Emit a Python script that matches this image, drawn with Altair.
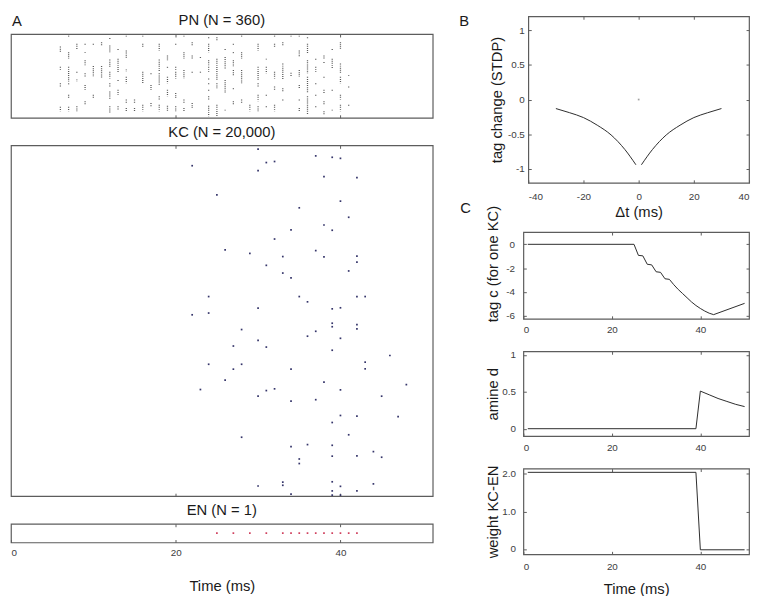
import altair as alt
import pandas as pd

FONT = "Liberation Sans"
BOX = "#5c5c5c"
TXT = "#1a1a1a"
LBL = "#404040"
LINE = "#2b2b2b"
PN_COL = "#5a5a5a"
KC_COL = "#35356a"
EN_COL = "#d0405e"

# ---------------- Panel A: PN raster (bursts of dots: time, first PN, last PN) ----------------
pn_time = [6,6,6,6, 7,7,7,7,7,7, 8,8,8,8, 9,9,9,9,9,9, 10,10,10, 11,11,
           12,12,12,12,12,12,12, 13,13,13,13,13, 14,14,14,14,14,14, 15,15,
           16,16,16,16, 17,17,17, 18,18,18,18,18, 19,19,19,19,19, 20,20,20,20,20,
           21,21,21,21,21, 22,22,22,22, 23,23, 24,24,24,24,24,24,24,24,24,
           25,25,25,25, 26,26,26,26, 27,27,27,27,27,27, 28,28,28,28, 29,
           30,30,30,30,30, 31,31,31,31, 32,32,32,32,32, 33,33,33,33, 34,34,
           35,35,35,35,35,35, 36,36,36,36,36, 37,37,37,37,37, 38,38,38,38,38,38,
           39,39,39,39, 40,40,40,40,40, 41,41,41]
pn_first = [54,141,212,313, 7,78,141,212,261,313, 42,162,195,311, 42,78,113,169,219,289,
            42,138,261, 35,138, 17,49,110,162,212,247,311, 64,106,198,240,311,
            7,71,152,184,282,318, 282,318, 7,42,162,304, 169,219,297, 42,110,169,268,304,
            92,141,184,240,308, 42,141,162,254,311, 7,78,155,282,318, 35,92,162,297, 99,162,
            14,42,113,141,191,212,240,268,308, 14,106,212,304, 64,99,198,325,
            42,78,113,155,233,289, 7,78,155,282, 304, 42,141,212,261,311, 106,141,261,311,
            7,42,162,226,304, 35,127,233,282, 7,167, 7,71,155,219,282,318,
            14,42,113,184,268, 106,141,212,261,311, 92,120,184,240,289,332,
            64,106,240,325, 35,127,184,261,304, 177,226,304]
pn_last = [78,158,226,332, 11,106,205,219,275,332, 64,169,205,332, 49,82,134,184,240,304,
           49,184,275, 49,191, 21,78,141,191,226,282,339, 71,169,205,261,325,
           11,106,162,212,297,332, 297,332, 11,56,212,332, 177,240,311, 71,162,219,282,332,
           113,148,212,268,332, 49,155,191,275,332, 11,106,191,297,332, 49,106,169,318, 106,169,
           21,78,134,162,198,219,247,282,353, 28,198,233,353, 71,148,254,329,
           49,85,141,177,240,304, 11,106,212,297, 332, 71,198,226,289,332, 110,169,268,318,
           11,56,191,240,332, 49,198,247,289, 11,184, 11,99,184,233,289,332,
           21,85,169,254,346, 113,162,219,268,318, 106,127,188,254,304,346,
           71,148,247,332, 64,169,212,282,332, 181,233,308]

# ---------------- Panel A: KC raster (spike time, KC row from top, % of height) ----------------
kc_time = [30,37,39,40,22,31,32,30,38,42,
           25,40,35,41,38,39,34,32,26,29,
           37,33,38,42,42,31,41,33,34,24,
           35,36,42,43,30,39,40,22,24,39,
           39,42,42,28,37,36,30,40,27,31,
           39,46,24,28,27,34,43,43,26,38,
           48,23,30,31,32,40,34,37,45,40,
           42,47,39,41,28,34,36,39,35,35,
           39,42,44,45,30,33,33,34,39,39,
           39,40,40,42,44]
kc_row = [1.1,3.0,3.4,3.7,5.8,4.9,4.6,7.2,8.9,9.2,
          14.1,15.9,17.8,20.5,22.7,24.2,24.1,26.7,29.8,30.8,
          30.0,31.7,31.8,31.6,33.3,34.2,35.8,36.4,37.8,43.1,
          43.1,44.6,43.1,43.1,46.4,46.6,46.3,48.3,47.8,50.7,
          51.7,51.1,52.3,52.5,53.0,54.4,55.6,55.0,57.2,57.5,
          58.4,59.9,62.4,62.4,63.8,63.8,61.8,63.7,66.9,67.5,
          68.2,69.6,71.5,69.9,69.4,69.7,72.9,72.5,71.5,77.0,
          77.2,77.3,79.0,82.5,83.2,85.9,85.3,85.5,89.4,90.7,
          88.6,88.5,87.3,88.9,97.1,96.0,96.9,99.4,95.9,98.5,
          99.7,97.2,99.7,98.5,96.5]

# ---------------- Panel A: EN spikes ----------------
en_time = [25, 27, 29, 31, 33, 34, 35, 36, 37, 38, 39, 40, 41, 42]

# ---------------- Panel B: STDP curve ----------------
stdp_dt = [-30, -25, -20, -15, -10, -5, -1, 1, 5, 10, 15, 20, 25, 30]
stdp_val = [-0.13, -0.19, -0.26, -0.37, -0.51, -0.72, -0.94,
            -0.94, -0.72, -0.51, -0.37, -0.26, -0.19, -0.13]
stdp_side = ["pre"] * 7 + ["post"] * 7

# ---------------- Panel C: time courses ----------------
tag_t = [1, 25, 26, 27, 28, 29, 30, 31, 32, 33, 34, 35, 36, 37, 38, 39, 40, 41, 42, 43, 50]
tag_c = [0, 0, -0.93, -0.97, -1.68, -1.73, -2.31, -2.36, -2.9, -2.95, -3.4, -3.8,
         -4.15, -4.5, -4.85, -5.15, -5.4, -5.62, -5.8, -5.92, -4.97]
amine_t = [1, 39, 40, 42, 44, 46, 48, 50]
amine_d = [0, 0, 0.51, 0.46, 0.41, 0.37, 0.33, 0.30]
weight_t = [1, 39, 40, 50]
weight_w = [2.04, 2.04, -0.02, -0.02]

# ================= charts =================
W_A, W_B, W_C = 428, 224, 229
x_a = alt.Scale(domain=[0, 51.2], nice=False, zero=False)
x_c = alt.Scale(domain=[0, 51], nice=False, zero=False)
EXPR = "'' + datum.value"


def letter(s, px, py):
    return alt.Chart(pd.DataFrame({"s": [s]})).mark_text(
        align="left", baseline="top", font=FONT, fontSize=15, color=TXT
    ).encode(text="s:N", x=alt.value(px), y=alt.value(py))


def spacer_chart(extra=None):
    pt = alt.Chart(pd.DataFrame({"v": [0]})).mark_point(opacity=0).encode(
        x=alt.X("v:Q", axis=None), y=alt.Y("v:Q", axis=None))
    layers = [pt] + ([extra] if extra is not None else [])
    return alt.layer(*layers).properties(width=1, height=1, view=alt.ViewBackground(strokeOpacity=0))


# --- PN ---
pn_df = pd.DataFrame({"t": pn_time, "first": pn_first, "last": pn_last})
pn_y = alt.Scale(domain=[0, 360], reverse=True, nice=False, zero=False)
pn_main = alt.Chart(pn_df).mark_rule(color=PN_COL, strokeWidth=1.3, strokeDash=[1, 1.1]).encode(
    x=alt.X("t:Q", scale=x_a, title=None, axis=alt.Axis(orient="bottom", values=[20, 40], labels=False)),
    y=alt.Y("first:Q", scale=pn_y, axis=None),
    y2="last:Q",
)
pn_top = alt.Chart(pn_df).mark_point(opacity=0).encode(
    x=alt.X("t:Q", scale=x_a, title=None, axis=alt.Axis(orient="top", values=[20, 40], labels=False)),
    y=alt.Y("first:Q", scale=pn_y, axis=None),
)
pn = alt.layer(pn_main, pn_top).resolve_axis(x="independent").properties(
    width=W_A, height=85, title="PN (N = 360)")

# --- KC ---
kc_df = pd.DataFrame({"t": kc_time, "row": kc_row})
kc_y = alt.Scale(domain=[0, 100], reverse=True, nice=False, zero=False)
kc_main = alt.Chart(kc_df).mark_square(size=3, color=KC_COL, opacity=1).encode(
    x=alt.X("t:Q", scale=x_a, title=None, axis=alt.Axis(orient="bottom", values=[20, 40], labels=False)),
    y=alt.Y("row:Q", scale=kc_y, axis=None),
)
kc_top = alt.Chart(kc_df).mark_point(opacity=0).encode(
    x=alt.X("t:Q", scale=x_a, title=None, axis=alt.Axis(orient="top", values=[20, 40], labels=False)),
    y=alt.Y("row:Q", scale=kc_y, axis=None),
)
kc = alt.layer(kc_main, kc_top).resolve_axis(x="independent").properties(
    width=W_A, height=356, title="KC (N = 20,000)")

# --- EN ---
en_df = pd.DataFrame({"t": en_time, "unit": 1})
en_y = alt.Scale(domain=[0.5, 1.5], nice=False, zero=False)
en_main = alt.Chart(en_df).mark_square(size=3, color=EN_COL, opacity=1).encode(
    x=alt.X("t:Q", scale=x_a, title="Time (ms)",
            axis=alt.Axis(orient="bottom", values=[0, 20, 40], labelFlush=True, labelExpr=EXPR,
                          labelPadding=5, titlePadding=22)),
    y=alt.Y("unit:Q", scale=en_y, axis=None),
)
en_top = alt.Chart(en_df).mark_point(opacity=0).encode(
    x=alt.X("t:Q", scale=x_a, title=None, axis=alt.Axis(orient="top", values=[20, 40], labels=False)),
    y=alt.Y("unit:Q", scale=en_y, axis=None),
)
en = alt.layer(en_main, en_top).resolve_axis(x="independent").properties(
    width=W_A, height=19, title="EN (N = 1)")

# --- B ---
b_df = pd.DataFrame({"dt": stdp_dt, "dv": stdp_val, "side": stdp_side})
bx = alt.Scale(domain=[-40, 40], nice=False, zero=False)
by = alt.Scale(domain=[-1.2, 1.2], nice=False, zero=False)
b_vals = [-1, -0.5, 0, 0.5, 1]
b_line = alt.Chart(b_df).mark_line(color=LINE, strokeWidth=1, interpolate="monotone").encode(
    x=alt.X("dt:Q", scale=bx, title="Δt (ms)",
            axis=alt.Axis(orient="bottom", values=[-40, -20, 0, 20, 40], labelFlush=True,
                          labelExpr=EXPR, labelPadding=9, titlePadding=3)),
    y=alt.Y("dv:Q", scale=by, title="tag change (STDP)",
            axis=alt.Axis(orient="left", values=b_vals, labelExpr=EXPR, labelPadding=4,
                          titleX=-35, titleBaseline="middle")),
    detail="side:N",
)
b_dot = alt.Chart(pd.DataFrame({"dt": [0], "dv": [0]})).mark_square(size=3, color="#777777").encode(
    x=alt.X("dt:Q", scale=bx, axis=None), y=alt.Y("dv:Q", scale=by, axis=None))
b_mirror = alt.Chart(b_df).mark_point(opacity=0).encode(
    x=alt.X("dt:Q", scale=bx, title=None, axis=alt.Axis(orient="top", values=[-20, 0, 20], labels=False)),
    y=alt.Y("dv:Q", scale=by, title=None, axis=alt.Axis(orient="right", values=b_vals, labels=False)),
)
b = alt.layer(b_line, b_dot, b_mirror, letter("B", -70, -2), letter("C", -69, 188)).resolve_axis(
    x="independent", y="independent").properties(width=W_B, height=169)


# --- C panels ---
def c_panel(t, v, ydom, yvals, ytitle, lpad, xlpad, height, ylabel_expr=EXPR, xtitle=None,
            title_y=None):
    df = pd.DataFrame({"t": t, "v": v})
    ys = alt.Scale(domain=ydom, nice=False, zero=False)
    yaxis_kw = dict(orient="left", values=yvals, labelExpr=ylabel_expr, labelPadding=lpad,
                    titleX=-34, titleBaseline="middle")
    if title_y is not None:
        yaxis_kw["titleY"] = title_y
    xaxis_kw = dict(orient="bottom", values=[0, 20, 40], labelExpr=EXPR, labelPadding=xlpad)
    if xtitle is not None:
        xaxis_kw["titlePadding"] = 11
    main = alt.Chart(df).mark_line(color=LINE, strokeWidth=1).encode(
        x=alt.X("t:Q", scale=x_c, title=xtitle, axis=alt.Axis(**xaxis_kw)),
        y=alt.Y("v:Q", scale=ys, title=ytitle, axis=alt.Axis(**yaxis_kw)),
    )
    mirror = alt.Chart(df).mark_point(opacity=0).encode(
        x=alt.X("t:Q", scale=x_c, title=None, axis=alt.Axis(orient="top", values=[20, 40], labels=False)),
        y=alt.Y("v:Q", scale=ys, title=None, axis=alt.Axis(orient="right", values=yvals, labels=False)),
    )
    return alt.layer(main, mirror).resolve_axis(x="independent", y="independent").properties(
        width=W_C, height=height)


c1 = c_panel(tag_t, tag_c, [-6.27, 1.03], [-6, -4, -2, 0], "tag c (for one KC)", 9, 6, 88, title_y=32)
c2 = c_panel(amine_t, amine_d, [-0.1, 1.05], [0, 0.5, 1], "amine d", 8, 7, 86)
c3 = c_panel(weight_t, weight_w, [-0.14, 2.14], [0, 1, 2], "weight KC-EN", 8, 7, 87,
             ylabel_expr="datum.value == 0 ? '0' : format(datum.value, '.1f')", xtitle="Time (ms)")

# --- layout ---
left_inner = alt.vconcat(pn, kc, en, spacing=28, bounds="flush")
left = alt.vconcat(spacer_chart(letter("A", 1, -2)), left_inner, spacing=17, bounds="flush")
b_row = alt.hconcat(spacer_chart(), b, spacing=4, bounds="flush")
right_c = alt.vconcat(c1, c2, c3, spacing=33, bounds="flush")
right = alt.vconcat(b_row, right_c, spacing=219, bounds="flush")

chart = alt.hconcat(left, right, spacing=25).properties(
    padding={"left": 0, "top": 0, "right": 0, "bottom": 0}
).configure_view(
    stroke=BOX, strokeWidth=1.2
).configure_axis(
    domain=False, grid=False, offset=-3, tickSize=3, tickColor=BOX, tickWidth=1,
    labelFont=FONT, labelFontSize=10, labelColor=LBL,
    titleFont=FONT, titleFontSize=15, titleFontWeight="normal", titleColor=TXT,
).configure_title(
    font=FONT, fontSize=15, fontWeight="normal", color=TXT, offset=5, anchor="middle"
)

chart.save("out.html", embed_options={"renderer": "svg", "actions": False})
